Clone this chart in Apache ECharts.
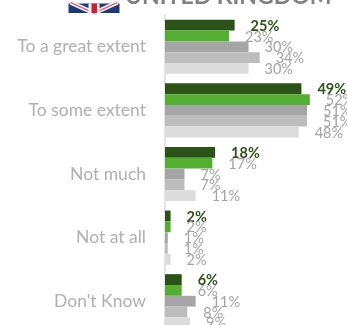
<!DOCTYPE html>
<html>
<head>
<meta charset="utf-8">
<style>html,body{margin:0;padding:0;background:#fff}#c{width:347px;height:325px}</style>
<script src="https://cdn.jsdelivr.net/npm/echarts@6/dist/echarts.min.js"></script>
</head>
<body>
<div id="c"></div>
<script>
const categories = ['To a great extent', 'To some extent', 'Not much', 'Not at all', "Don't Know"];
const wave1 = [25, 49, 18, 2, 6];
const wave2 = [23, 52, 17, 2, 6];
const wave3 = [30, 51, 7, 1, 11];
const wave4 = [34, 51, 7, 1, 8];
const wave5 = [30, 48, 11, 2, 9];
const seriesColors = ['#2b5318', '#53ae32', '#a5a5a5', '#bdbdbd', '#dbdbdb'];
const titleText = 'UNITED KINGDOM';

const chart = echarts.init(document.getElementById('c'), null, {renderer: 'canvas'});

function barSeries(values, i) {
  const lead = i === 0;
  return {
    type: 'bar',
    data: values,
    barGap: '0%',
    barCategoryGap: '15%',
    itemStyle: {color: seriesColors[i]},
    label: {
      show: true,
      position: 'right',
      distance: 16,
      offset: [0, 1],
      formatter: '{c}%',
      fontFamily: 'Lato',
      fontSize: 14.5,
      fontWeight: lead ? 'bold' : 'normal',
      color: lead ? '#2b5318' : '#a3a3a3'
    },
    silent: true
  };
}

// Small flag beside the heading, built from plain shapes
function flagStripe(points, color, width) {
  return {type: 'polyline', shape: {points}, style: {stroke: color, lineWidth: width, fill: null}};
}

chart.setOption({
  animation: false,
  backgroundColor: '#fff',
  grid: {left: 165, top: 15, width: 181, height: 318, outerBoundsMode: 'none', containLabel: false},
  xAxis: {type: 'value', min: 0, max: 65, show: false},
  yAxis: {
    type: 'category',
    data: categories,
    inverse: true,
    axisLine: {show: true, lineStyle: {color: '#e4e4e4', width: 2}},
    axisTick: {show: false},
    axisLabel: {color: '#b0b0b0', fontFamily: 'Lato', fontSize: 17.5, margin: 19}
  },
  series: [wave1, wave2, wave3, wave4, wave5].map(barSeries),
  graphic: [
    {type: 'text', left: 125, top: -15, style: {text: titleText, fontFamily: 'Lato', fontWeight: 'bold', fontSize: 23, fill: '#808080'}},
    {type: 'group', left: 68, top: 0, children: [
      {type: 'rect', shape: {x: 0, y: 0, width: 51, height: 9.5}, style: {fill: '#1f3a7a'}},
      flagStripe([[2, -1], [25.5, 9.5], [49, -1]], '#f4f0f2', 4.5),
      flagStripe([[2, -1], [25.5, 9.5], [49, -1]], '#d9506a', 1.2),
      {type: 'rect', shape: {x: 20, y: 0, width: 11, height: 9.5}, style: {fill: '#f4f0f2'}},
      {type: 'rect', shape: {x: 23, y: 0, width: 5.5, height: 9.5}, style: {fill: '#c8202f'}}
    ]}
  ]
});
</script>
</body>
</html>
